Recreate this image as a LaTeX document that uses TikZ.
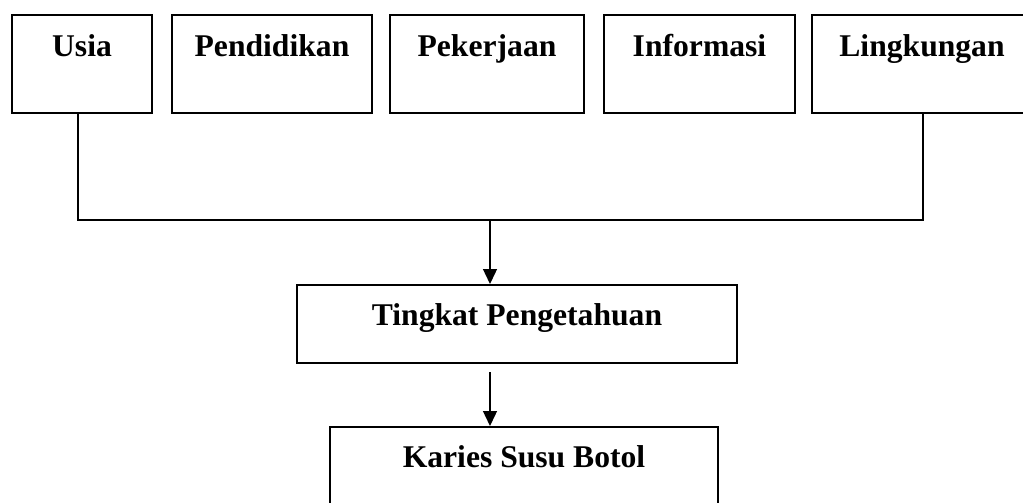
\documentclass[tikz,border=0pt]{standalone}
\usepackage{fontspec}
\setmainfont{Liberation Serif}
\usetikzlibrary{arrows.meta}

\begin{document}
\begin{tikzpicture}
  [x=0.02cm, y=-0.02cm,
  kotak/.style={draw, line width=1pt, inner sep=0pt, anchor=north,
    font=\fontsize{18}{22}\selectfont\bfseries},
  faktor/.style={kotak, text height=0.84cm, text depth=1.12cm},
  hasil/.style={kotak, text height=0.82cm},
  garis/.style={line width=0.8pt},
  panah/.style={garis, -{Triangle[length=3mm, width=2.8mm]}}]
  \useasboundingbox (0,0) rectangle (1023,503);
  % faktor-faktor
  \node[faktor, minimum width=2.8cm] (usia) at (82,14) {Usia};
  \node[faktor, minimum width=4cm] (pendidikan) at (272,14) {Pendidikan};
  \node[faktor, minimum width=3.88cm] (pekerjaan) at (487,14) {Pekerjaan};
  \node[faktor, minimum width=3.82cm] (informasi) at (699.5,14) {Informasi};
  \node[faktor, minimum width=4.4cm] (lingkungan) at (922,14) {Lingkungan};
  \node[hasil, text depth=0.74cm, minimum width=8.8cm] (tingkat) at (517,284) {Tingkat Pengetahuan};
  \node[hasil, text depth=1.6cm, minimum width=7.76cm] (karies) at (524,426) {Karies Susu Botol};
  \coordinate (kiri) at (78,220);
  \coordinate (kanan) at (923,220);
  \coordinate (tengah) at (490,220);
  \coordinate (mulai) at (490,372);
  \draw[garis] (usia.south -| kiri) -- (kiri) -- (kanan) -- (lingkungan.south -| kanan);
  \draw[panah] (tengah) -- (tingkat.north -| tengah);
  \draw[panah] (mulai) -- (karies.north -| mulai);
\end{tikzpicture}
\end{document}
